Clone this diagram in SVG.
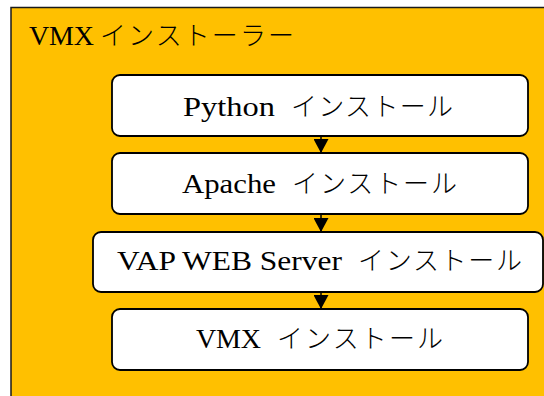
<svg xmlns="http://www.w3.org/2000/svg" width="544" height="396" viewBox="0 0 544 396">
<defs>
<style>
.bg{fill:#FFC000;stroke:#1a1a1a;stroke-width:1.5}
.box{fill:#fff;stroke:#000;stroke-width:1.8}
text{font-family:"Liberation Serif","Noto Serif CJK JP","Noto Sans CJK JP",serif;fill:#000}
.lat{font-size:28px}
.jp{font-family:"Noto Sans CJK JP","Liberation Serif",sans-serif;font-size:26px;font-weight:300}
.conn{stroke:#000;stroke-width:1.5;fill:none}
</style>
<marker id="ah" markerUnits="userSpaceOnUse" markerWidth="15" markerHeight="15" refX="14" refY="7.5" orient="auto">
<path d="M0,0 L14,7.5 L0,15 Z" fill="#000"/>
</marker>
</defs>
<g id="container">
<rect class="bg" x="11" y="7.5" width="600" height="420"/>
<text x="29" y="45"><tspan class="lat" textLength="65">VMX</tspan><tspan class="jp" x="100" textLength="194">インストーラー</tspan></text>
</g>
<g id="python">
<rect class="box" x="112" y="75" width="416" height="61" rx="8"/>
<text x="183" y="116"><tspan class="lat" textLength="92" lengthAdjust="spacingAndGlyphs">Python</tspan><tspan class="jp" x="291" textLength="162">インストール</tspan></text>
</g>
<g id="apache">
<rect class="box" x="112" y="153" width="416" height="61" rx="8"/>
<text x="182" y="193"><tspan class="lat" textLength="94" lengthAdjust="spacingAndGlyphs">Apache</tspan><tspan class="jp" x="292" textLength="165">インストール</tspan></text>
</g>
<g id="vap">
<rect class="box" x="93" y="232" width="450" height="60" rx="8"/>
<text x="117" y="270"><tspan class="lat" textLength="225" lengthAdjust="spacingAndGlyphs">VAP WEB Server</tspan><tspan class="jp" x="358" textLength="164">インストール</tspan></text>
</g>
<g id="vmx">
<rect class="box" x="112" y="309" width="416" height="61" rx="8"/>
<text x="196" y="348"><tspan class="lat" textLength="65">VMX</tspan><tspan class="jp" x="277" textLength="166">インストール</tspan></text>
</g>
<g id="connectors">
<line class="conn" x1="321" y1="136" x2="321" y2="153" marker-end="url(#ah)"/>
<line class="conn" x1="321" y1="214" x2="321" y2="232" marker-end="url(#ah)"/>
<line class="conn" x1="321" y1="292" x2="321" y2="309" marker-end="url(#ah)"/>
</g>
</svg>
